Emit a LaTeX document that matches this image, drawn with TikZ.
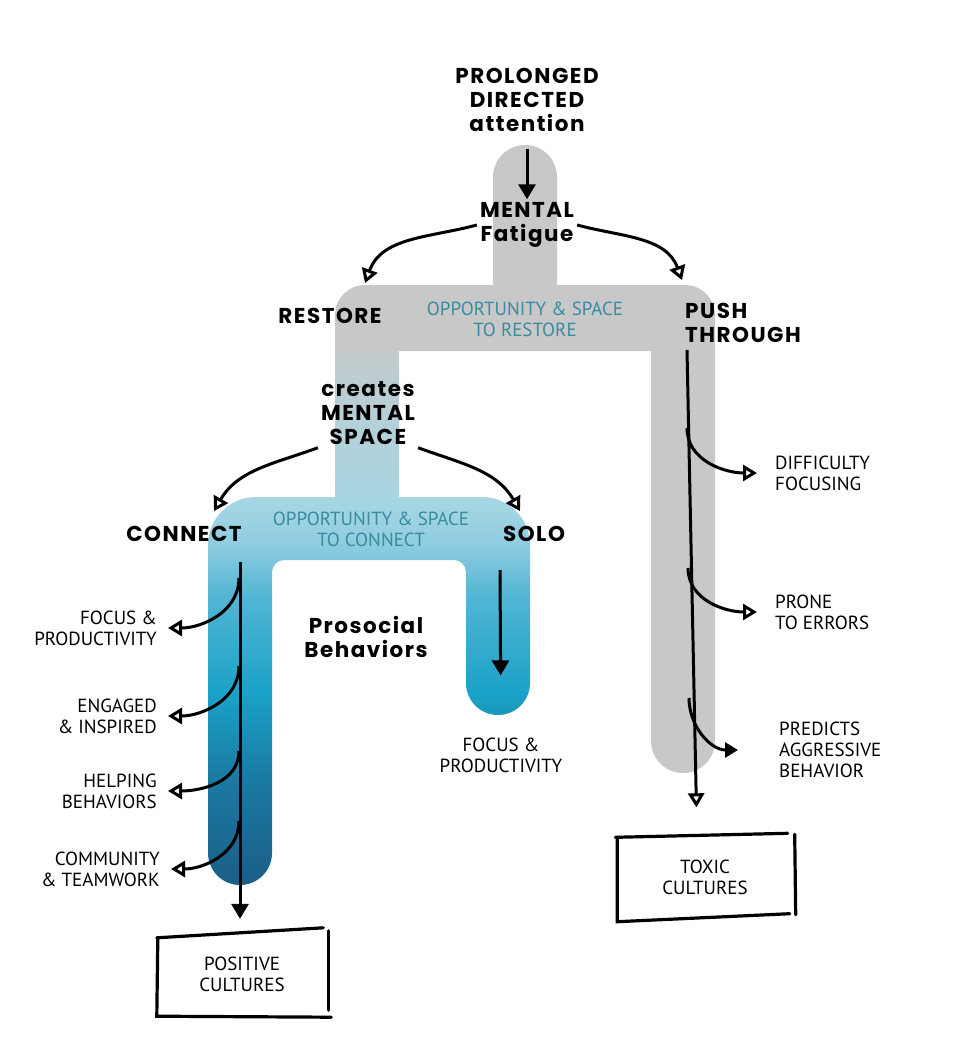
\documentclass[tikz,border=0pt]{standalone}
\usepackage{fontspec}
\setmainfont{PT Sans}
\newfontfamily\handfont{Poppins}[LetterSpace=7.0]
\usetikzlibrary{arrows.meta}
\definecolor{pipegray}{HTML}{C8C8C8}
\definecolor{pipetext}{HTML}{3A8BA0}
\definecolor{pipeA}{HTML}{1B5E86}
\definecolor{pipeB}{HTML}{1A7AA3}
\definecolor{pipeC}{HTML}{1AA2C8}
\definecolor{pipeD}{HTML}{52B5D4}
\definecolor{pipeE}{HTML}{8FCDE0}
\definecolor{pipeF}{HTML}{A7D6E3}
\definecolor{pipeG}{HTML}{C2CACC}
\pgfdeclareverticalshading{bluepipe}{100bp}{color(0bp)=(pipeA); color(25bp)=(pipeA); color(35bp)=(pipeB); color(43bp)=(pipeC); color(52bp)=(pipeD); color(57bp)=(pipeE); color(61bp)=(pipeF); color(75bp)=(pipeG); color(100bp)=(pipeG)}

\begin{document}
\begin{tikzpicture}[x=1pt,y=1pt,>={Triangle[length=15pt,width=17pt]},
	hand/.style={font=\handfont\bfseries\fontsize{21.5}{24}\selectfont, align=center, inner sep=3pt},
	note/.style={font=\fontsize{19}{21}\selectfont, inner sep=0pt},
	leftnote/.style={note, align=right, anchor=east, inner xsep=11pt},
	rightnote/.style={note, align=left, anchor=west, inner xsep=18pt},
	pipelabel/.style={note, align=center, text=pipetext},
	culture/.style={note, align=center, minimum width=170pt, minimum height=82pt},
	flow/.style={->, line width=3pt},
	branch/.style={-{Triangle[open,length=14pt,width=16pt]}, line width=3pt},
	sketch/.style={line width=3.2pt, line cap=round}]
	\fill[white] (0,0) rectangle (963,-1060);
	\useasboundingbox (0,0) rectangle (963,-1060);
	
	\fill[pipegray] (493,-177) arc[start angle=180,end angle=0,radius=32] -- (557,-285) -- (685,-285)
		arc[start angle=90,end angle=0,radius=30] -- (715,-741) arc[start angle=0,end angle=-180,radius=32]
		-- (651,-351) -- (335,-351) -- (335,-315) arc[start angle=180,end angle=90,radius=30] -- (493,-285) -- cycle;
	\shade[shading=bluepipe] (335,-351) -- (399,-351) -- (399,-497) -- (482,-497)
		arc[start angle=90,end angle=0,radius=48] -- (530,-683) arc[start angle=0,end angle=-180,radius=32]
		-- (466,-572) arc[start angle=0,end angle=90,radius=12] -- (284,-560)
		arc[start angle=90,end angle=180,radius=12] -- (272,-853) arc[start angle=0,end angle=-180,radius=32]
		-- (208,-545) arc[start angle=180,end angle=90,radius=48] -- (335,-497) -- cycle;
	
	\node[hand] (pda) at (527,-100) {PROLONGED\\DIRECTED\\attention};
	\node[hand] (fat) at (527,-225) {MENTAL\\Fatigue};
	\node[hand] (rest) at (330,-316) {RESTORE};
	\node[hand, align=left, anchor=west] (push) at (682,-323) {PUSH\\THROUGH};
	\node[hand] (cms) at (368,-413) {creates\\MENTAL\\SPACE};
	\node[hand] (con) at (184,-534) {CONNECT};
	\node[hand] (solo) at (534,-534) {SOLO};
	\node[hand] (pro) at (366,-637) {Prosocial\\Behaviors};
	
	\node[pipelabel] (ores) at (525,-319) {OPPORTUNITY \& SPACE\\TO RESTORE};
	\node[pipelabel] (ocon) at (371,-529) {OPPORTUNITY \& SPACE\\TO CONNECT};
	
	\node[leftnote] (foc) at (168,-628) {FOCUS \&\\PRODUCTIVITY};
	\node[leftnote] (eng) at (168,-716) {ENGAGED\\\& INSPIRED};
	\node[leftnote] (help) at (168,-791) {HELPING\\BEHAVIORS};
	\node[leftnote] (com) at (171,-869) {COMMUNITY\\\& TEAMWORK};
	\node[note, align=center] (sfoc) at (501,-755) {FOCUS \&\\PRODUCTIVITY};
	\node[rightnote] (dif) at (757,-473) {DIFFICULTY\\FOCUSING};
	\node[rightnote] (prone) at (757,-612) {PRONE\\TO ERRORS};
	\node[rightnote, inner xsep=41pt] (pred) at (738,-750) {PREDICTS\\AGGRESSIVE\\BEHAVIOR};
	
	\node[culture] (pos) at (242,-974) {POSITIVE\\CULTURES};
	\node[culture, minimum width=175pt, minimum height=83pt] (tox) at (705,-877) {TOXIC\\CULTURES};
	
	\coordinate (c0) at (240,-562);
	\coordinate (c1) at (239,-578);
	\coordinate (c2) at (239,-666);
	\coordinate (c3) at (239,-751);
	\coordinate (c4) at (239,-821);
	\coordinate (s0) at (500,-570);
	\coordinate (p0) at (687,-350);
	\coordinate (p1) at (687,-428);
	\coordinate (p2) at (688,-568);
	\coordinate (p3) at (689,-698);
	
	\path
	(pda) edge[flow, shorten <=14pt] (fat)
	(fat.west) edge[branch, out=195, in=70] ([xshift=35pt,yshift=22pt]rest.north)
	(fat.east) edge[branch, out=-15, in=110] ([yshift=20pt]push.north west)
	(cms.south west) edge[branch, out=200, in=60] ([xshift=30pt,yshift=12pt]con.north)
	(cms.south east) edge[branch, out=-20, in=120] ([xshift=-14pt,yshift=12pt]solo.north)
	(c0) edge[flow, shorten >=14pt] (c0 |- pos.north)
	(c1) edge[branch, out=-90, in=0] (foc)
	(c2) edge[branch, out=-90, in=0] (eng)
	(c3) edge[branch, out=-90, in=0] (help)
	(c4) edge[branch, out=-90, in=0] (com)
	(s0) edge[flow, shorten >=62pt] (sfoc.north)
	(p0) edge[branch, shorten >=28pt] ([xshift=-8pt]tox.north)
	(p1) edge[branch, out=-90, in=180] (dif)
	(p2) edge[branch, out=-90, in=180] (prone)
	(p3) edge[-{Triangle[length=13pt,width=15pt]}, line width=3pt, out=-90, in=180] (pred);
	
	\draw[sketch] ([yshift=-5pt]pos.north west) -- ([xshift=-4pt,yshift=5pt]pos.north east);
	\draw[sketch] ([xshift=1pt,yshift=2pt]pos.north east) -- ([xshift=1pt,yshift=5pt]pos.south east);
	\draw[sketch] ([xshift=1pt,yshift=-6pt]pos.north west) -- ([yshift=-1pt]pos.south west) -- ([xshift=4pt,yshift=-2pt]pos.south east);
	\draw[sketch] ([xshift=-2pt,yshift=-2pt]tox.north west) -- ([xshift=-5pt,yshift=2pt]tox.north east);
	\draw[sketch] ([xshift=2pt,yshift=1pt]tox.north east) -- ([xshift=3pt,yshift=4pt]tox.south east);
	\draw[sketch] ([yshift=-4pt]tox.north west) -- ([yshift=-3pt]tox.south west) -- ([xshift=-3pt,yshift=5pt]tox.south east);
\end{tikzpicture}
\end{document}
